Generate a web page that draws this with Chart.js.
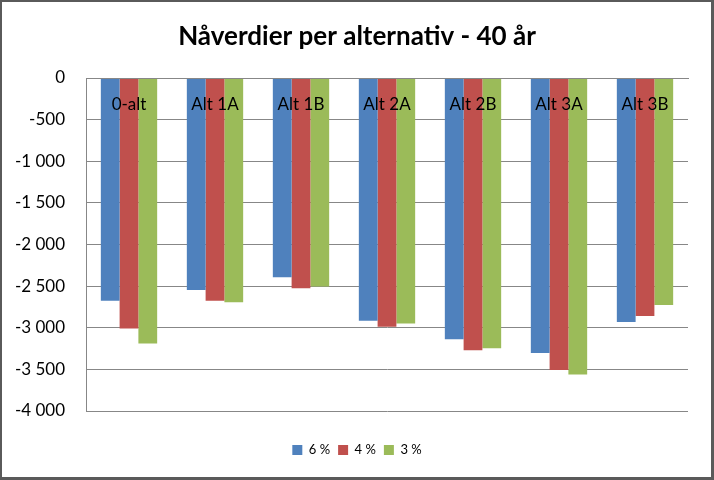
<!DOCTYPE html>
<html>
<head>
<meta charset="utf-8">
<script src="https://cdn.jsdelivr.net/npm/chart.js@4/dist/chart.umd.min.js"></script>
<style>
  html, body { margin: 0; padding: 0; background: #fff; }
  #wrap { position: relative; width: 714px; height: 480px; }
  #frame {
    position: absolute; left: 0; top: 0; width: 714px; height: 480px;
    box-sizing: border-box; border-style: solid; border-color: #5a5a5a;
    border-width: 2px 3px 3px 2px; pointer-events: none;
  }
</style>
</head>
<body>
<div id="wrap">
  <canvas id="myChart" width="714" height="480"></canvas>
  <div id="frame"></div>
</div>
<script>
const categories = ['0-alt', 'Alt 1A', 'Alt 1B', 'Alt 2A', 'Alt 2B', 'Alt 3A', 'Alt 3B'];
const rate6 = [-2675, -2546, -2394, -2916, -3137, -3302, -2932];
const rate4 = [-3008, -2675, -2527, -2988, -3269, -3507, -2860];
const rate3 = [-3190, -2695, -2506, -2948, -3245, -3563, -2727];
const yTicks = [0, -500, -1000, -1500, -2000, -2500, -3000, -3500, -4000];

const FONT = 'Lato, "Open Sans", sans-serif';

function fmt(v) {
    const s = Math.abs(v).toString().replace(/\B(?=(\d{3})+(?!\d))/g, ' ');
    return (v < 0 ? '-' : '') + s;
}

const data = {
    labels: categories,
    datasets: [
        { label: '6 %', data: rate6, backgroundColor: '#4F81BD' },
        { label: '4 %', data: rate4, backgroundColor: '#C0504D' },
        { label: '3 %', data: rate3, backgroundColor: '#9BBB59' }
    ]
};

const config = {
    type: 'bar',
    data: data,
    options: {
        responsive: false,
        animation: false,
        categoryPercentage: 0.655,
        barPercentage: 1.0,
        layout: { padding: { left: 13, right: 13, top: 0, bottom: 13.5 } },
        scales: {
            x: {
                position: { y: 0 },
                grid: { display: false, drawTicks: false },
                border: { display: true, color: '#878787', width: 1, z: 1 },
                ticks: { z: 1, color: '#000', padding: 16, font: { family: FONT, size: 17 } }
            },
            y: {
                min: -4000,
                max: 0,
                afterFit: (s) => { s.width = 73; },
                afterBuildTicks: (s) => { s.ticks = yTicks.map(v => ({ value: v })); },
                grid: { color: '#878787', drawTicks: false },
                border: { display: true, color: '#878787' },
                ticks: {
                    color: '#000', padding: 21,
                    font: { family: FONT, size: 17 },
                    callback: (v) => fmt(v)
                }
            },
            // empty right-hand spacer so title and legend stay centred on the canvas
            yRight: {
                position: 'right',
                min: -4000,
                max: 0,
                afterFit: (s) => { s.width = 13; },
                grid: { display: false, drawTicks: false },
                border: { display: false },
                ticks: { display: false }
            }
        },
        plugins: {
            title: {
                display: true,
                text: 'Nåverdier per alternativ - 40 år',
                color: '#000',
                font: { family: FONT, size: 26, weight: 'bold' },
                padding: { top: 20.7, bottom: 26.1 }
            },
            legend: {
                position: 'bottom',
                title: { display: true, text: ' ', font: { size: 12 }, padding: { top: 0, bottom: 10.1 } },
                labels: {
                    color: '#000',
                    boxWidth: 10,
                    boxHeight: 10,
                    padding: 8,
                    font: { family: FONT, size: 13 }
                }
            },
            tooltip: { enabled: false }
        }
    }
};

const myChart = new Chart(document.getElementById('myChart'), config);
</script>
</body>
</html>
